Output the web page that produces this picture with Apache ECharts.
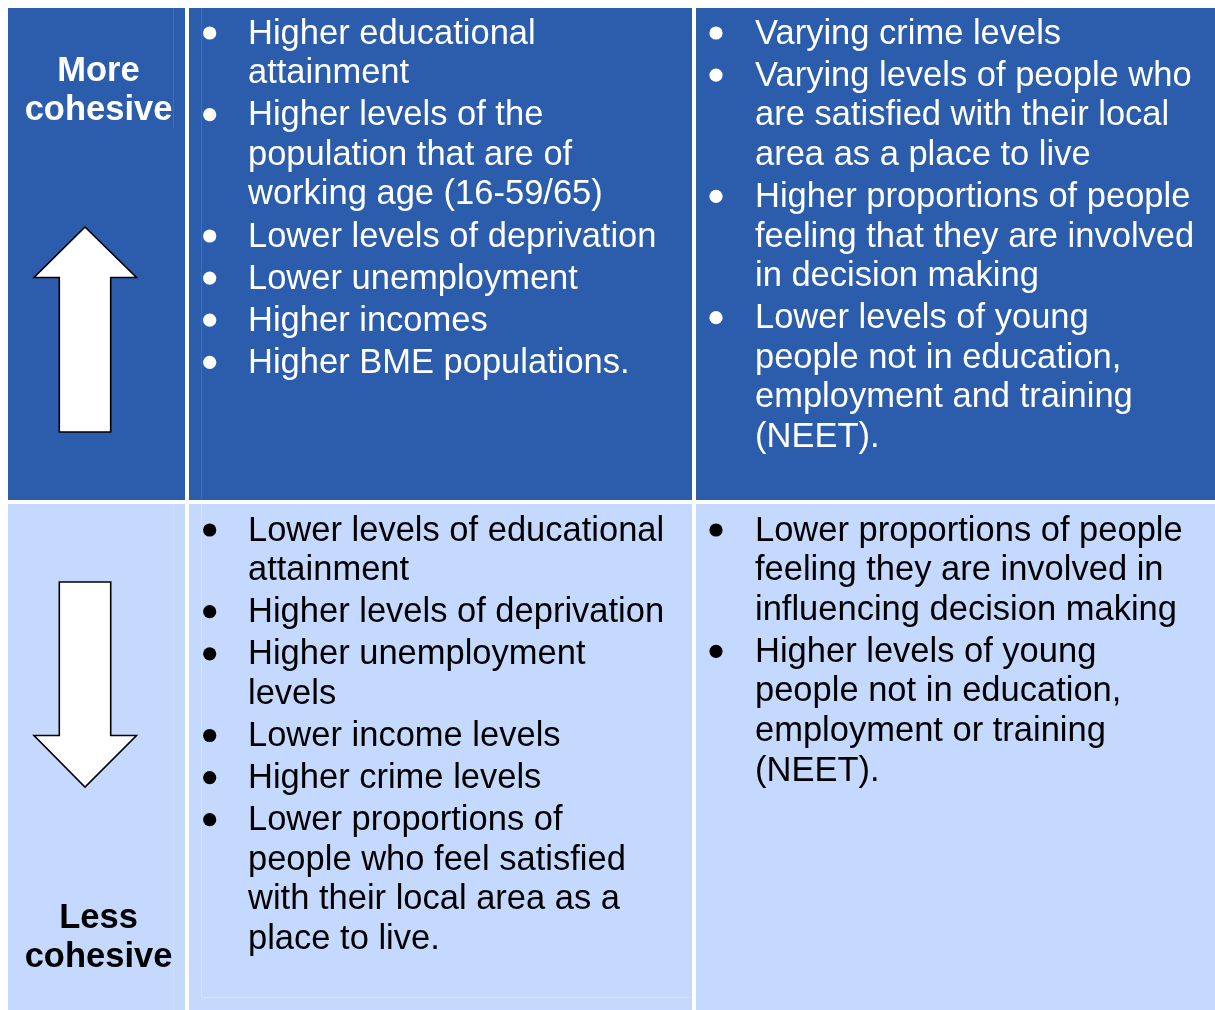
<!DOCTYPE html>
<html>
<head>
<meta charset="utf-8">
<script src="https://cdn.jsdelivr.net/npm/echarts@6/dist/echarts.min.js"></script>
<style>
  html, body { margin: 0; padding: 0; background: #ffffff; }
  #chart { width: 1215px; height: 1010px; }
</style>
</head>
<body>
<div id="chart"></div>
<script>
// ---- content ----
const rowLabels = [["More", "cohesive"], ["Less", "cohesive"]];

const topMiddle = [
  ["Higher educational", "attainment"],
  ["Higher levels of the", "population that are of", "working age (16-59/65)"],
  ["Lower levels of deprivation"],
  ["Lower unemployment"],
  ["Higher incomes"],
  ["Higher BME populations."]
];

const topRight = [
  ["Varying crime levels"],
  ["Varying levels of people who", "are satisfied with their local", "area as a place to live"],
  ["Higher proportions of people", "feeling that they are involved", "in decision making"],
  ["Lower levels of young", "people not in education,", "employment and training", "(NEET)."]
];

const bottomMiddle = [
  ["Lower levels of educational", "attainment"],
  ["Higher levels of deprivation"],
  ["Higher unemployment", "levels"],
  ["Lower income levels"],
  ["Higher crime levels"],
  ["Lower proportions of", "people who feel satisfied", "with their local area as a", "place to live."]
];

const bottomRight = [
  ["Lower proportions of people", "feeling they are involved in", "influencing decision making"],
  ["Higher levels of young", "people not in education,", "employment or training", "(NEET)."]
];

// ---- layout / style ----
const DARK = "#2C5DAD";
const LIGHT = "#C5D9FE";
const FONT = "'Liberation Sans', Arial, Helvetica, sans-serif";
const FS = 34.5;
const LINE_H = 39.6;
const PARA_GAP = 2.5;
const TEXT_DY = -9;
const cols = [{ x: 8, w: 177 }, { x: 189, w: 503 }, { x: 696, w: 519 }];
const rows = [{ y: 8, h: 492, fill: DARK, ink: "#ffffff", firstBase: 43, labelBase: 81 },
              { y: 504, h: 506, fill: LIGHT, ink: "#000000", firstBase: 540, labelBase: 928.3 }];
const textCols = [{ bulletX: 209.7, textX: 248 }, { bulletX: 716, textX: 755 }];

const elements = [];

// cells
rows.forEach(r => {
  cols.forEach(c => {
    elements.push({ type: "rect", shape: { x: c.x, y: r.y, width: c.w, height: r.h },
      style: { fill: r.fill }, silent: true });
  });
});

// faint inner table lines
const faint = "rgba(255,255,255,0.1)";
elements.push({ type: "line", shape: { x1: 173.5, y1: 8, x2: 173.5, y2: 128 }, style: { stroke: faint, lineWidth: 1 } });
elements.push({ type: "line", shape: { x1: 201.5, y1: 8, x2: 201.5, y2: 500 }, style: { stroke: faint, lineWidth: 1 } });
elements.push({ type: "line", shape: { x1: 173.5, y1: 504, x2: 173.5, y2: 1010 }, style: { stroke: "rgba(255,255,255,0.15)", lineWidth: 1 } });
elements.push({ type: "line", shape: { x1: 201.5, y1: 504, x2: 201.5, y2: 997 }, style: { stroke: "rgba(255,255,255,0.25)", lineWidth: 1 } });
elements.push({ type: "line", shape: { x1: 201.5, y1: 997.5, x2: 690, y2: 997.5 }, style: { stroke: "rgba(255,255,255,0.3)", lineWidth: 1 } });

// row labels
rows.forEach((r, ri) => {
  rowLabels[ri].forEach((t, li) => {
    elements.push({ type: "text", x: 98.5, y: r.labelBase + li * 39.5 + TEXT_DY - 1,
      style: { text: t, fill: r.ink, font: "bold " + FS + "px " + FONT, align: "center", verticalAlign: "middle" } });
  });
});

// arrows
const upArrow = [[85, 227], [136.5, 277.5], [110.7, 277.5], [110.7, 432], [59.3, 432], [59.3, 277.5], [34, 277.5]];
const downArrow = [[59.3, 582], [110.7, 582], [110.7, 735.5], [136.5, 735.5], [85, 787], [34, 735.5], [59.3, 735.5]];
[upArrow, downArrow].forEach(p => {
  elements.push({ type: "polygon", shape: { points: p },
    style: { fill: "#ffffff", stroke: "#000000", lineWidth: 1.6, lineJoin: "miter" } });
});

// bullet lists
function addList(items, row, tc) {
  let base = row.firstBase;
  items.forEach((item, ii) => {
    if (ii > 0) base += PARA_GAP;
    elements.push({ type: "circle", shape: { cx: tc.bulletX, cy: base - 10, r: 6.6 },
      style: { fill: row.ink } });
    item.forEach((line, li) => {
      if (li > 0) base += LINE_H;
      elements.push({ type: "text", x: tc.textX, y: base + TEXT_DY,
        style: { text: line, fill: row.ink, font: FS + "px " + FONT, align: "left", verticalAlign: "middle" } });
    });
    base += LINE_H;
  });
}
addList(topMiddle, rows[0], textCols[0]);
addList(topRight, rows[0], textCols[1]);
addList(bottomMiddle, rows[1], textCols[0]);
addList(bottomRight, rows[1], textCols[1]);

const chart = echarts.init(document.getElementById("chart"), null, { renderer: "canvas" });
chart.setOption({
  backgroundColor: "#ffffff",
  animation: false,
  graphic: { elements: elements }
});
</script>
</body>
</html>
